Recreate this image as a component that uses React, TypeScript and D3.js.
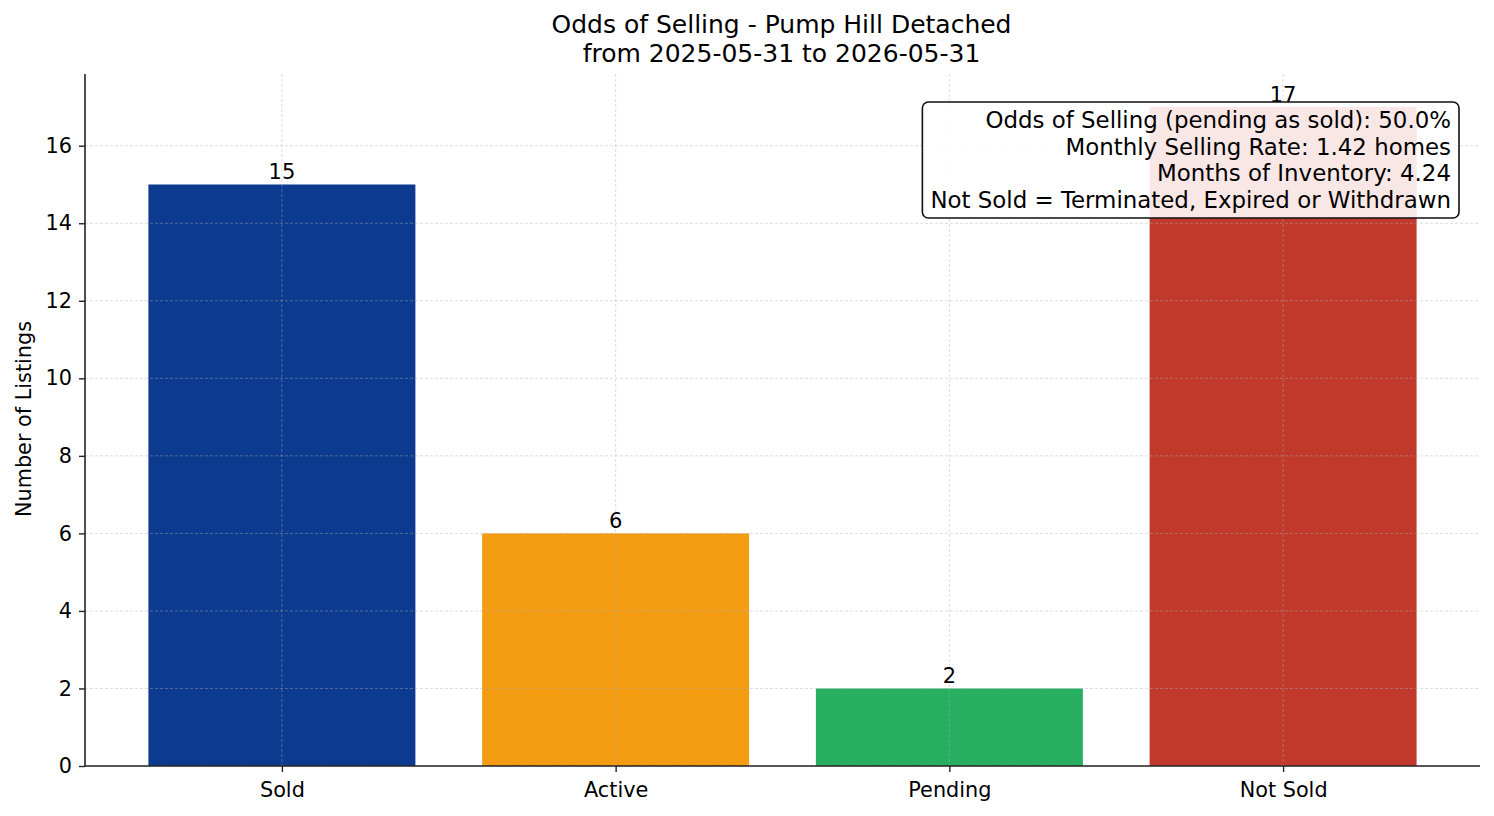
import { useEffect, useRef } from "react";
import * as d3 from "d3";

const categories = ["Sold", "Active", "Pending", "Not Sold"];
const counts = [15, 6, 2, 17];
const barColors = ["#0b3a8e", "#f39c12", "#27ae60", "#c0392b"];
const yTicks = [0, 2, 4, 6, 8, 10, 12, 14, 16];
const titleLines = ["Odds of Selling - Pump Hill Detached", "from 2025-05-31 to 2026-05-31"];
const statsLines = [
  "Odds of Selling (pending as sold): 50.0%",
  "Monthly Selling Rate: 1.42 homes",
  "Months of Inventory: 4.24",
  "Not Sold = Terminated, Expired or Withdrawn",
];

const W = 1494;
const H = 816;
const FONT = "'DejaVu Sans', sans-serif";

export default function App() {
  const svgRef = useRef<SVGSVGElement>(null);

  useEffect(() => {
    if (!svgRef.current) return;
    const svg = d3.select(svgRef.current);
    svg.selectAll("*").remove();

    const margin = { top: 74, right: 14, bottom: 50, left: 85 };
    const innerW = W - margin.left - margin.right;
    const innerH = H - margin.top - margin.bottom;
    const g = svg.append("g").attr("transform", `translate(${margin.left},${margin.top})`);

    // matplotlib-style linear x: bars at 0..n-1, width 0.8, 5% margins
    const n = categories.length;
    const pad = (n - 1 + 0.8) * 0.05;
    const x = d3.scaleLinear().domain([-0.4 - pad, n - 1 + 0.4 + pad]).range([0, innerW]);
    const yMax = (d3.max(counts) || 0) * 1.05;
    const y = d3.scaleLinear().domain([0, yMax]).range([innerH, 0]);

    // Bars
    g.selectAll("rect.bar")
      .data(counts)
      .enter()
      .append("rect")
      .attr("class", "bar")
      .attr("x", (_d, i) => x(i - 0.4))
      .attr("width", x(0.8) - x(0))
      .attr("y", (d) => y(d))
      .attr("height", (d) => innerH - y(d))
      .attr("fill", (_d, i) => barColors[i]);

    // Gridlines on top of bars
    const grid = g
      .append("g")
      .attr("stroke", "#b0b0b0")
      .attr("stroke-opacity", 0.55)
      .attr("stroke-dasharray", "3,2")
      .attr("stroke-width", 0.8);
    yTicks.forEach((t) => {
      grid.append("line").attr("x1", 0).attr("x2", innerW).attr("y1", y(t)).attr("y2", y(t));
    });
    categories.forEach((_c, i) => {
      grid.append("line").attr("x1", x(i)).attr("x2", x(i)).attr("y1", 0).attr("y2", innerH);
    });

    // Value labels
    g.selectAll("text.val")
      .data(counts)
      .enter()
      .append("text")
      .attr("class", "val")
      .attr("x", (_d, i) => x(i))
      .attr("y", (d) => y(d) - 5)
      .attr("text-anchor", "middle")
      .style("font-family", FONT)
      .style("font-size", "21px")
      .attr("fill", "#000")
      .text((d) => d);

    // Axes
    const yAxis = g.append("g").call(d3.axisLeft(y).tickValues(yTicks).tickSize(6).tickPadding(7));
    const xAxis = g
      .append("g")
      .attr("transform", `translate(0,${innerH})`)
      .call(
        d3
          .axisBottom(x)
          .tickValues(d3.range(n))
          .tickFormat((_d, i) => categories[i])
          .tickSize(6)
          .tickPadding(10)
      );
    [yAxis, xAxis].forEach((ax) => {
      ax.select(".domain").remove();
      ax.selectAll("line").attr("stroke", "#222").attr("stroke-width", 1.4);
      ax.selectAll("text").style("font-family", FONT).style("font-size", "20.8px").attr("fill", "#000");
    });
    g.append("line").attr("x1", 0).attr("x2", 0).attr("y1", 0).attr("y2", innerH).attr("stroke", "#222").attr("stroke-width", 1.6);
    g.append("line").attr("x1", 0).attr("x2", innerW).attr("y1", innerH).attr("y2", innerH).attr("stroke", "#222").attr("stroke-width", 1.6);

    // Y label
    svg
      .append("text")
      .attr("transform", `translate(31,${margin.top + innerH / 2 - 1}) rotate(-90)`)
      .attr("text-anchor", "middle")
      .style("font-family", FONT)
      .style("font-size", "20.8px")
      .text("Number of Listings");

    // Title
    svg
      .append("text")
      .attr("text-anchor", "middle")
      .style("font-family", FONT)
      .style("font-size", "25px")
      .selectAll("tspan")
      .data(titleLines)
      .enter()
      .append("tspan")
      .attr("x", margin.left + innerW / 2 - 1)
      .attr("y", (_d, i) => 33 + i * 29)
      .text((d) => d);

    // Stats box
    const textRight = 1451;
    const lineH = 26.7;
    const boxTop = 102;
    const statsG = svg.append("g");
    const box = statsG
      .append("rect")
      .attr("rx", 6)
      .attr("fill", "#fff")
      .attr("fill-opacity", 0.88)
      .attr("stroke", "#111")
      .attr("stroke-width", 1.6);
    const txt = statsG
      .append("text")
      .attr("text-anchor", "end")
      .style("font-family", FONT)
      .style("font-size", "22.9px");
    statsLines.forEach((l, i) => {
      txt.append("tspan").attr("x", textRight).attr("y", boxTop + 26 + i * lineH).text(l);
    });
    const bb = (txt.node() as SVGTextElement).getBBox();
    box
      .attr("x", bb.x - 8)
      .attr("y", boxTop)
      .attr("width", bb.width + 16)
      .attr("height", 116);
  }, []);

  return <svg ref={svgRef} width={W} height={H} style={{ display: "block", margin: -8 }} />;
}
